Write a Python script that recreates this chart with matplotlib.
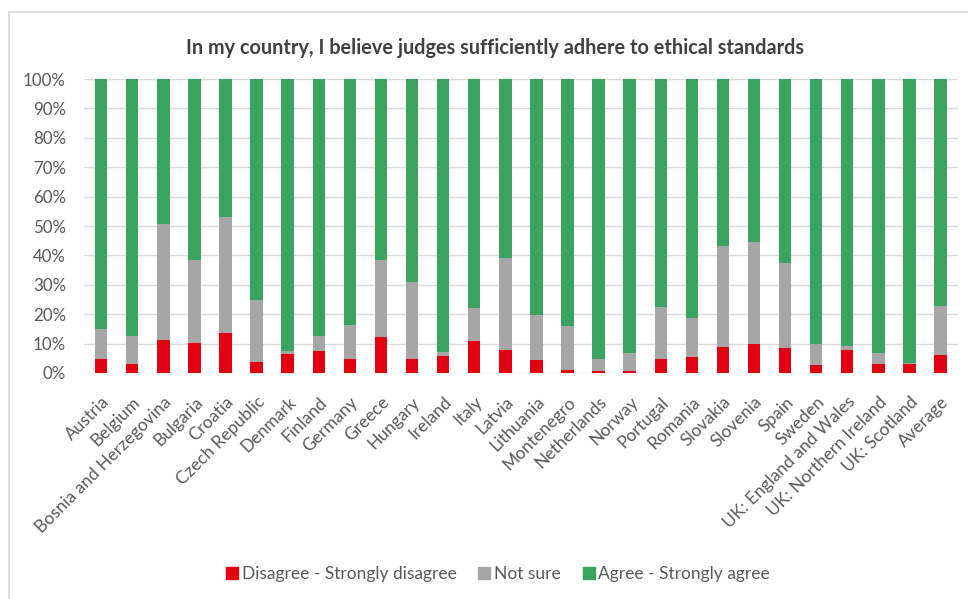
import numpy as np
import matplotlib.pyplot as plt
from matplotlib.lines import Line2D
from matplotlib.ticker import PercentFormatter

countries = [
    "Austria", "Belgium", "Bosnia and Herzegovina", "Bulgaria", "Croatia",
    "Czech Republic", "Denmark", "Finland", "Germany", "Greece", "Hungary",
    "Ireland", "Italy", "Latvia", "Lithuania", "Montenegro", "Netherlands",
    "Norway", "Portugal", "Romania", "Slovakia", "Slovenia", "Spain", "Sweden",
    "UK: England and Wales", "UK: Northern Ireland", "UK: Scotland", "Average",
]
disagree = [4.9, 3.0, 11.3, 10.2, 13.6, 3.6, 6.4, 7.4, 4.9, 12.3, 4.9, 5.9, 10.9, 7.8,
            4.4, 1.0, 0.7, 0.8, 4.8, 5.6, 9.0, 9.9, 8.4, 2.8, 7.9, 3.2, 3.2, 6.2]
not_sure = [10.2, 9.5, 39.5, 28.1, 39.6, 21.3, 1.2, 5.1, 11.4, 26.0, 26.2, 1.2, 11.1, 31.3,
            15.3, 14.9, 4.1, 5.9, 17.6, 13.1, 34.2, 34.7, 29.1, 6.9, 1.4, 3.6, 0.3, 16.6]
agree = [84.9, 87.5, 49.2, 61.7, 46.8, 75.1, 92.4, 87.5, 83.7, 61.7, 68.9, 92.9, 78.0, 60.9,
         80.3, 84.1, 95.2, 93.3, 77.6, 81.3, 56.8, 55.4, 62.5, 90.3, 90.7, 93.2, 96.5, 77.2]

series = ["Disagree - Strongly disagree", "Not sure", "Agree - Strongly agree"]
colors = ["#e1000f", "#a6a6a6", "#3aa35f"]

plt.rcParams["font.family"] = ["Lato", "DejaVu Sans"]
txt = "#595959"

fig = plt.figure(figsize=(9.68, 5.99), dpi=100)
ax = fig.add_axes([0.0868, 0.3773, 0.9025, 0.4908])

x = np.arange(len(countries))
bottom = np.zeros(len(countries))
for vals, c, name in zip([disagree, not_sure, agree], colors, series):
    ax.bar(x, vals, width=0.4, bottom=bottom, color=c, label=name, zorder=3)
    bottom += np.array(vals)

ax.set_xlim(-0.55, len(countries) - 0.45)
ax.set_ylim(0, 100)
ax.set_yticks(np.arange(0, 101, 10))
ax.yaxis.set_major_formatter(PercentFormatter(decimals=0))
ax.grid(axis="y", color="#d9d9d9", linewidth=1, zorder=0)
for s in ax.spines.values():
    s.set_visible(False)
ax.tick_params(axis="y", length=0, labelsize=12.2, colors=txt, pad=13)
ax.tick_params(axis="x", length=0, labelsize=12.5, colors=txt, pad=15)
ax.set_xticks(x)
ax.set_xticklabels(countries, rotation=45, ha="right", rotation_mode="anchor")

fig.text(0.511, 0.92, "In my country, I believe judges sufficiently adhere to ethical standards",
         ha="center", va="center", fontsize=14.3, fontweight="bold", color="#404040")

handles = [Line2D([], [], marker="s", linestyle="", markersize=9, color=c) for c in colors]
fig.legend(handles, series, loc="center", bbox_to_anchor=(0.514, 0.042), ncol=3,
           frameon=False, fontsize=12.5, handlelength=0.8, handletextpad=0.15,
           columnspacing=1.2, labelcolor=txt)

# chart border (top and left visible)
fig.add_artist(Line2D([9 / 968, 9 / 968], [0, 1 - 12 / 599], color="#d9d9d9", lw=1.2))
fig.add_artist(Line2D([9 / 968, 1], [1 - 12 / 599, 1 - 12 / 599], color="#d9d9d9", lw=1.2))

fig.savefig("out.png", dpi=100)
